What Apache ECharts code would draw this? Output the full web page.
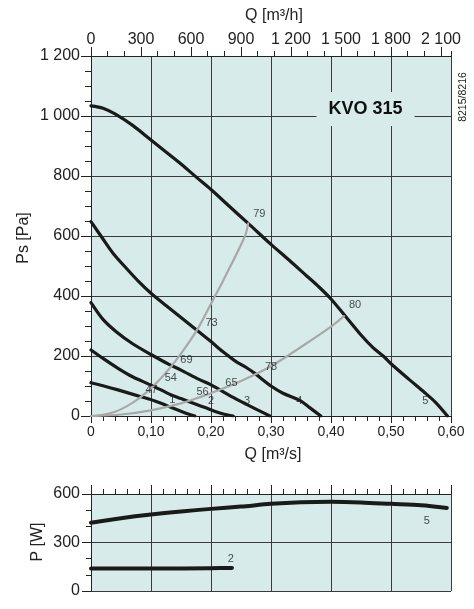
<!DOCTYPE html>
<html><head><meta charset="utf-8">
<script src="https://cdn.jsdelivr.net/npm/echarts@6/dist/echarts.min.js"></script>
<style>html,body{margin:0;padding:0;background:#fff}#c{width:474px;height:609px}</style>
</head><body><div id="c"></div>
<script>
// ---- Data (Q in m3/s, Ps in Pa, P in W) ----
const curve1 = [[0,111],[0.02,101],[0.045,87],[0.07,72],[0.098,56],[0.12,40],[0.134,28],[0.155,12],[0.173,0]];
const curve2 = [[0,220],[0.02,192],[0.045,159],[0.07,130],[0.10,103],[0.134,70],[0.15,58],[0.175,39],[0.19,28],[0.207,15],[0.222,6],[0.237,0]];
const curve3 = [[0,378],[0.02,322],[0.042,281],[0.07,240],[0.10,205],[0.13,172],[0.15,153],[0.18,122],[0.20,104],[0.237,62],[0.26,38],[0.28,18],[0.298,0]];
const curve4 = [[0,648],[0.02,590],[0.037,542],[0.06,490],[0.08,447],[0.10,409],[0.125,368],[0.15,328],[0.176,287],[0.20,248],[0.22,214],[0.24,184],[0.26,160],[0.273,142],[0.30,100],[0.32,76],[0.348,52],[0.365,27],[0.383,0]];
const curve5 = [[0,1034],[0.02,1026],[0.04,1007],[0.07,968],[0.10,920],[0.125,880],[0.15,840],[0.175,797],[0.20,755],[0.23,700],[0.262,642],[0.30,572],[0.33,520],[0.36,466],[0.38,430],[0.40,390],[0.423,335],[0.45,270],[0.47,228],[0.487,200],[0.50,174],[0.53,122],[0.555,80],[0.575,44],[0.594,0]];
const systemA = [[0,0],[0.02,4],[0.04,14],[0.06,33],[0.08,59],[0.10,92],[0.12,133],[0.14,181],[0.16,236],[0.18,298],[0.2067,400],[0.22,450],[0.2567,600],[0.262,642]];
const systemB = [[0,0],[0.05,5],[0.10,19],[0.15,42],[0.182,63],[0.20,76],[0.25,117],[0.30,166],[0.35,230],[0.40,298],[0.4217,333]];
const power5 = [[0,422],[0.05,450],[0.10,473],[0.15,492],[0.20,508],[0.25,522],[0.30,539],[0.35,549],[0.40,552],[0.45,548],[0.50,539],[0.55,530],[0.593,514]];
const power2 = [[0,139],[0.10,139],[0.20,141],[0.235,143]];
const fanLabels = [[0.1355,53,'1'],[0.200,51,'2'],[0.260,50,'3'],[0.347,50,'4'],[0.557,51,'5']];
const effLabels = [[0.101,87,'47'],[0.133,126,'54'],[0.159,187,'69'],[0.201,309,'73'],[0.2805,673,'79'],[0.186,81,'56'],[0.234,111,'65'],[0.300,164,'78'],[0.440,370,'80']];
const powerLabels = [[0.5595,432,'5'],[0.233,201,'2']];
const qsTicks = [0,0.1,0.2,0.3,0.4,0.5,0.6];
const qsTickLabels = ['0','0,10','0,20','0,30','0,40','0,50','0,60'];
const qhTicks = [0,300,600,900,1200,1500,1800,2100];
const qhTickLabels = ['0','300','600','900','1 200','1 500','1 800','2 100'];
const psTicks = [0,200,400,600,800,1000,1200];
const psTickLabels = ['0','200','400','600','800','1 000','1 200'];
const pTicks = [0,300,600];
const pTickLabels = ['0','300','600'];

const FONT = 'Liberation Sans, Arial, sans-serif';
const BG = '#d7ecea';
const GRIDC = '#3a3a3a';
function lookup(vals, labels){
  return function(v){ for (let i=0;i<vals.length;i++){ if (Math.abs(vals[i]-v)<1e-6) return labels[i]; } return ''; };
}
const chart = echarts.init(document.getElementById('c'), null, {renderer:'canvas'});
const axisLineStyle = {color:'#222', width:1};
const lineSeries = (data, color, width, xi, yi) => ({
  type:'line', data, xAxisIndex:xi, yAxisIndex:yi, smooth:0.3, showSymbol:false, symbol:'none',
  lineStyle:{color, width, cap:'round', join:'round'}, silent:true, animation:false, z:3
});
const labelSeries = (data, xi, yi) => ({
  type:'scatter', data, xAxisIndex:xi, yAxisIndex:yi, symbolSize:1, itemStyle:{color:'rgba(0,0,0,0)'},
  label:{show:true, position:'inside', formatter:p=>p.value[2], color:'#222', fontSize:11, fontFamily:FONT},
  silent:true, animation:false, z:5
});
const option = {
  animation:false,
  grid:[
    {left:91, top:56, width:360, height:360, show:true, backgroundColor:BG, borderWidth:0},
    {left:91, top:494, width:360, height:97, show:true, backgroundColor:BG, borderWidth:0}
  ],
  xAxis:[
    {gridIndex:0, type:'value', position:'bottom', min:0, max:0.6, interval:0.1,
     axisLine:{show:true, onZero:false, lineStyle:axisLineStyle},
     axisTick:{show:true, inside:false, length:7, lineStyle:{color:'#222'}},
     minorTick:{show:true, splitNumber:5, length:5, lineStyle:{color:'#222'}},
     axisLabel:{formatter:lookup(qsTicks, qsTickLabels), fontSize:14, fontFamily:FONT, color:'#222', margin:9},
     splitLine:{show:true, lineStyle:{color:GRIDC, width:1}}},
    {gridIndex:0, type:'value', position:'top', min:0, max:2160, interval:300,
     axisLine:{show:true, onZero:false, lineStyle:axisLineStyle},
     axisTick:{show:true, inside:false, length:9, lineStyle:{color:'#222'}},
     axisLabel:{formatter:lookup(qhTicks, qhTickLabels), fontSize:16, fontFamily:FONT, color:'#222', margin:8, showMaxLabel:false},
     splitLine:{show:false}},
    {gridIndex:0, type:'value', position:'top', min:0, max:2160, interval:100,
     axisLine:{show:false, onZero:false},
     axisTick:{show:true, inside:false, length:5, lineStyle:{color:'#222'}},
     axisLabel:{show:false}, splitLine:{show:false}},
    {gridIndex:1, type:'value', position:'top', min:0, max:0.6, interval:0.1,
     axisLine:{show:true, onZero:false, lineStyle:axisLineStyle},
     axisTick:{show:true, inside:false, length:9, lineStyle:{color:'#222'}},
     minorTick:{show:true, splitNumber:5, length:5, lineStyle:{color:'#222'}},
     axisLabel:{show:false},
     splitLine:{show:true, lineStyle:{color:GRIDC, width:1}}}
  ],
  yAxis:[
    {gridIndex:0, type:'value', min:0, max:1200, interval:200,
     axisLine:{show:true, onZero:false, lineStyle:axisLineStyle},
     axisTick:{show:true, inside:false, length:10, lineStyle:{color:'#222'}},
     minorTick:{show:true, splitNumber:4, length:6, lineStyle:{color:'#222'}},
     axisLabel:{formatter:lookup(psTicks, psTickLabels), fontSize:16, fontFamily:FONT, color:'#222', margin:11},
     splitLine:{show:true, lineStyle:{color:GRIDC, width:1}}},
    {gridIndex:1, type:'value', min:0, max:600, interval:300,
     axisLine:{show:true, onZero:false, lineStyle:axisLineStyle},
     axisTick:{show:true, inside:false, length:9, lineStyle:{color:'#222'}},
     minorTick:{show:true, splitNumber:3, length:5, lineStyle:{color:'#222'}},
     axisLabel:{formatter:lookup(pTicks, pTickLabels), fontSize:16, fontFamily:FONT, color:'#222', margin:11},
     splitLine:{show:true, lineStyle:{color:GRIDC, width:1}}}
  ],
  series:[
    lineSeries(curve1,'#1a1a1a',3.2,0,0),
    lineSeries(curve2,'#1a1a1a',3.2,0,0),
    lineSeries(curve3,'#1a1a1a',3.2,0,0),
    lineSeries(curve4,'#1a1a1a',3.2,0,0),
    lineSeries(curve5,'#1a1a1a',3.2,0,0),
    Object.assign(lineSeries(systemA,'#a8a8a8',2.2,0,0),{z:4}),
    Object.assign(lineSeries(systemB,'#a8a8a8',2.2,0,0),{z:4}),
    lineSeries(power5,'#1a1a1a',4,3,1),
    lineSeries(power2,'#1a1a1a',4,3,1),
    labelSeries(fanLabels,0,0),
    labelSeries(effLabels,0,0),
    labelSeries(powerLabels,3,1)
  ],
  graphic:[
    {type:'text', x:274, y:16, z:10, style:{text:'Q [m³/h]', font:'16px '+FONT, fill:'#222', align:'center', verticalAlign:'middle'}},
    {type:'text', x:273, y:455, z:10, style:{text:'Q [m³/s]', font:'16px '+FONT, fill:'#222', align:'center', verticalAlign:'middle'}},
    {type:'text', x:23.5, y:238, rotation:Math.PI/2, z:10, style:{text:'Ps [Pa]', font:'16px '+FONT, fill:'#222', align:'center', verticalAlign:'middle'}},
    {type:'text', x:37.5, y:542, rotation:Math.PI/2, z:10, style:{text:'P [W]', font:'16px '+FONT, fill:'#222', align:'center', verticalAlign:'middle'}},
    {type:'text', x:365.5, y:109, z:10, style:{text:'KVO 315', font:'bold 18px '+FONT, fill:'#111', align:'center', verticalAlign:'middle', backgroundColor:BG, padding:[8,12,8,12]}},
    {type:'text', x:463, y:97, rotation:Math.PI/2, z:10, style:{text:'8215/8216', font:'10.5px '+FONT, fill:'#222', align:'center', verticalAlign:'middle'}}
  ]
};
chart.setOption(option);
</script></body></html>
